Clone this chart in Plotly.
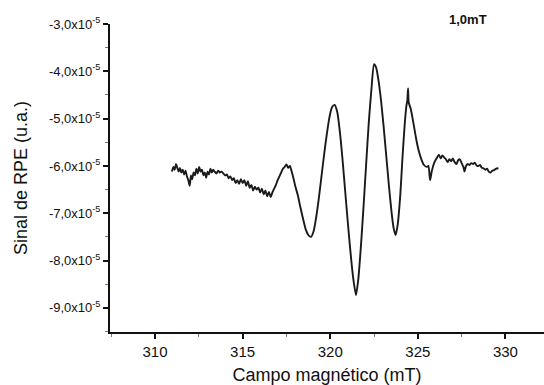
import plotly.graph_objects as go

# Magnetic field (mT) and EPR signal (units of 1e-5 a.u.)
field = [310.96, 311.05, 311.12, 311.2, 311.28, 311.35, 311.42, 311.5, 311.58, 311.66, 311.74, 311.82, 311.9, 311.98,
         312.05, 312.12, 312.2, 312.28, 312.36, 312.44, 312.52, 312.6, 312.68, 312.76, 312.84, 312.92, 313.0, 313.08,
         313.16, 313.24, 313.32, 313.4, 313.5, 313.6, 313.7, 313.8, 313.9, 314.0, 314.1, 314.2, 314.3, 314.4, 314.5,
         314.6, 314.7, 314.8, 314.9, 315.0, 315.1, 315.2, 315.3, 315.4, 315.5, 315.6, 315.7, 315.8, 315.9, 316.0,
         316.1, 316.2, 316.3, 316.4, 316.5, 316.6, 316.7, 316.8, 316.9, 317.0, 317.1, 317.2, 317.3, 317.4, 317.5,
         317.6, 317.7, 317.8, 317.9, 318.0, 318.15, 318.3, 318.45, 318.6, 318.75, 318.9, 319.05, 319.2, 319.35,
         319.5, 319.65, 319.8, 319.95, 320.1, 320.25, 320.4, 320.55, 320.7, 320.85, 321.0, 321.15, 321.3, 321.47,
         321.6, 321.75, 321.9, 322.05, 322.2, 322.35, 322.5, 322.62, 322.75, 322.9, 323.05, 323.2, 323.35, 323.5,
         323.62, 323.73, 323.85, 324.0, 324.12, 324.25, 324.35, 324.4, 324.44, 324.48, 324.6, 324.75, 324.9, 325.05,
         325.2, 325.35, 325.5, 325.6, 325.7, 325.8, 325.95, 326.1, 326.2, 326.3, 326.4, 326.5, 326.6, 326.7, 326.8,
         326.9, 327.0, 327.1, 327.2, 327.3, 327.4, 327.5, 327.6, 327.66, 327.75, 327.85, 327.95, 328.05, 328.15,
         328.25, 328.35, 328.45, 328.55, 328.65, 328.75, 328.85, 328.95, 329.05, 329.15, 329.25, 329.35, 329.45, 329.6]
signal = [-6.12, -6.02, -6.08, -5.96, -6.05, -6.12, -6.04, -6.14, -6.08, -6.18, -6.10, -6.22, -6.30, -6.42,
          -6.20, -6.28, -6.14, -6.20, -6.06, -6.16, -6.02, -6.12, -6.08, -6.20, -6.14, -6.25, -6.12, -6.18,
          -6.06, -6.14, -6.08, -6.12, -6.16, -6.10, -6.14, -6.12, -6.16, -6.20, -6.18, -6.26, -6.22, -6.30, -6.26,
          -6.36, -6.30, -6.38, -6.28, -6.36, -6.30, -6.42, -6.32, -6.46, -6.40, -6.52, -6.44, -6.50, -6.46, -6.56,
          -6.48, -6.60, -6.52, -6.64, -6.55, -6.66, -6.56, -6.48, -6.40, -6.30, -6.22, -6.14, -6.06, -6.02, -5.97,
          -6.04, -6.00, -6.12, -6.26, -6.42, -6.62, -6.88, -7.12, -7.34, -7.46, -7.50, -7.38, -7.08, -6.68,
          -6.22, -5.76, -5.34, -4.98, -4.76, -4.71, -4.86, -5.28, -5.86, -6.52, -7.18, -7.80, -8.34, -8.73,
          -8.40, -7.70, -6.86, -5.96, -5.08, -4.38, -3.85, -3.92, -4.18, -4.62, -5.18, -5.80, -6.42, -6.98,
          -7.32, -7.46, -7.24, -6.60, -5.84, -5.12, -4.72, -4.62, -4.36, -4.66, -4.80, -5.10, -5.42, -5.68,
          -5.86, -5.98, -6.02, -6.00, -6.30, -6.10, -5.92, -5.82, -5.76, -5.84, -5.78, -5.82, -5.86, -5.92, -5.86,
          -5.90, -5.84, -5.92, -5.96, -5.88, -5.86, -5.94, -6.02, -6.12, -6.00, -5.96, -5.98, -5.94, -5.96,
          -5.93, -5.99, -6.00, -5.98, -6.04, -6.05, -6.08, -6.06, -6.12, -6.14, -6.10, -6.09, -6.06, -6.05]

x_ticks = [310, 315, 320, 325, 330]
y_ticks = [-9, -8, -7, -6, -5, -4, -3]
y_ticktext = ["-9,0x10<sup>-5</sup>", "-8,0x10<sup>-5</sup>", "-7,0x10<sup>-5</sup>", "-6,0x10<sup>-5</sup>",
              "-5,0x10<sup>-5</sup>", "-4,0x10<sup>-5</sup>", "-3,0x10<sup>-5</sup>"]

FONT = "Liberation Sans, Arial, sans-serif"
INK = "#111111"

fig = go.Figure()
fig.add_trace(go.Scatter(x=field, y=signal, mode="lines",
                         line=dict(color="#1a1a1a", width=1.9, shape="spline", smoothing=0.6),
                         showlegend=False, hoverinfo="skip"))

fig.add_annotation(text="<b>1,0mT</b>", xref="paper", yref="paper", x=0.824, y=1.013,
                   xanchor="center", yanchor="middle", showarrow=False,
                   font=dict(family=FONT, size=13, color=INK))

fig.update_layout(
    width=544, height=385,
    margin=dict(l=110, r=0, t=24, b=53),
    paper_bgcolor="white", plot_bgcolor="white",
    font=dict(family=FONT, color=INK),
    xaxis=dict(range=[307.43, 332.2], tickmode="array", tickvals=x_ticks,
               ticks="outside", ticklen=5, tickwidth=1.5, tickcolor=INK,
               showline=True, linecolor=INK, linewidth=2, showgrid=False, zeroline=False,
               tickfont=dict(family=FONT, size=15, color=INK),
               minor=dict(ticks="outside", ticklen=3, tickcolor="#777", tickwidth=1.2,
                          tickmode="linear", tick0=307.5, dtick=5),
               title=dict(text="Campo magnético (mT)", font=dict(family=FONT, size=18, color=INK), standoff=10)),
    yaxis=dict(range=[-9.51, -3.0], tickmode="array", tickvals=y_ticks, ticktext=y_ticktext,
               ticks="outside", ticklen=5, tickwidth=1.5, tickcolor=INK,
               showline=True, linecolor=INK, linewidth=2, showgrid=False, zeroline=False,
               tickfont=dict(family=FONT, size=13, color=INK),
               minor=dict(ticks="outside", ticklen=3, tickcolor="#777", tickwidth=1.2,
                          tickmode="linear", tick0=-9.5, dtick=1),
               title=dict(text="Sinal de RPE (u.a.)", font=dict(family=FONT, size=18, color=INK), standoff=17)),
)

fig.write_html("out.html")
